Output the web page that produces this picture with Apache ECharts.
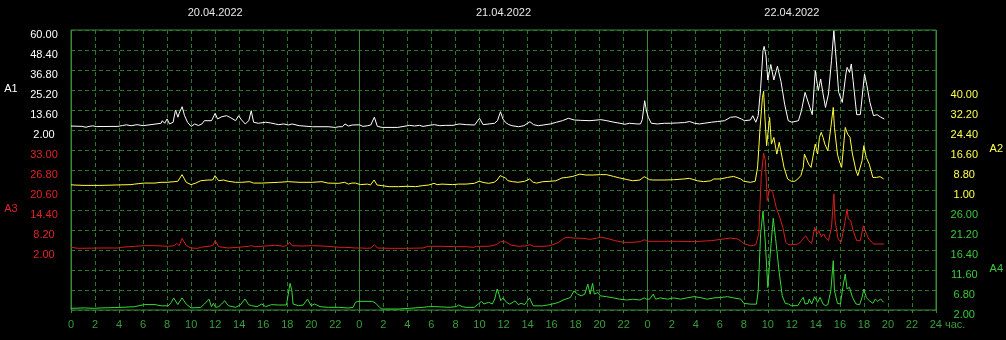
<!DOCTYPE html>
<html><head><meta charset="utf-8">
<script src="https://cdn.jsdelivr.net/npm/echarts@6/dist/echarts.min.js"></script>
<style>html,body{margin:0;padding:0;background:#000}#c{width:1006px;height:340px}</style>
</head><body><div id="c"></div>
<script>
// dates shown above each day (centred at noon)
const dates = ['20.04.2022', '21.04.2022', '22.04.2022'];
const datePositions = [12, 36, 60];
// tick labels of the four scales
const a1Ticks = [2, 13.6, 25.2, 36.8, 48.4, 60];
const a2Ticks = [1, 8.8, 16.6, 24.4, 32.2, 40];
const a3Ticks = [2, 8.2, 14.4, 20.6, 26.8, 33];
const a4Ticks = [2, 6.8, 11.6, 16.4, 21.2, 26];
// series points: [hour since 20.04 00:00, value]
const a1 = [[0,4.3],[0.9,4.1],[1.25,3.6],[1.5,4.1],[1.8,4.4],[2.1,4.0],[3.9,4.1],[4.3,4.6],[4.6,5.0],[5.0,4.5],[5.5,5.1],[6.0,4.5],[6.1,5.5],[7.5,5.9],[7.6,7.4],[7.8,5.9],[8.0,8.4],[8.2,5.5],[8.5,6.5],[8.7,13.6],[8.9,9.4],[9.0,11.7],[9.25,15.5],[9.45,10.3],[9.7,6.5],[10.0,4.1],[10.3,5.5],[10.6,4.6],[10.9,5.5],[11.1,7.4],[11.7,7.4],[12.0,11.7],[12.2,8.4],[12.55,9.7],[12.95,10.3],[13.25,9.3],[13.7,7.4],[13.95,10.3],[14.2,7.8],[14.5,5.5],[14.8,7.4],[15.0,13.2],[15.2,6.5],[15.6,5.9],[16.2,6.5],[16.6,6.1],[17.0,5.5],[17.3,5.1],[17.7,5.5],[18.1,4.9],[18.4,5.5],[19.0,4.5],[20.1,3.9],[21.4,3.9],[22.0,3.5],[22.3,3.9],[22.6,3.9],[22.8,5.5],[23.1,4.3],[23.4,4.9],[24.0,5.0],[24.3,4.1],[24.7,4.5],[24.95,4.9],[25.25,9.4],[25.5,4.1],[25.9,3.5],[27.2,3.5],[28.2,4.7],[28.6,4.3],[29.0,4.7],[29.3,4.1],[29.8,4.7],[30.25,5.1],[30.7,4.5],[31.2,4.7],[31.8,4.7],[32.3,5.5],[32.9,5.1],[33.6,4.9],[34.0,8.8],[34.3,5.1],[34.8,5.5],[35.25,5.9],[35.5,7.4],[35.75,12.6],[35.95,8.4],[36.15,6.5],[36.4,5.3],[36.7,4.5],[37.25,3.9],[37.7,4.5],[38.2,6.8],[38.5,5.1],[38.9,4.5],[39.3,4.9],[39.9,5.5],[40.4,6.5],[40.9,7.4],[41.4,8.8],[41.9,7.8],[42.4,7.6],[43.2,7.4],[44.1,8.0],[44.6,7.4],[45.2,6.5],[45.7,5.9],[46.1,5.3],[46.5,5.9],[47.1,5.5],[47.4,5.5],[47.55,8.0],[47.75,19.0],[47.9,13.0],[48.05,9.4],[48.3,5.9],[48.8,5.5],[49.4,5.9],[49.9,5.9],[50.5,6.1],[51.05,6.3],[51.5,6.9],[51.9,5.9],[52.3,5.5],[52.7,5.9],[53.3,6.5],[53.8,6.9],[54.4,7.4],[54.9,9.4],[55.35,9.7],[55.8,8.4],[56.05,7.4],[56.55,7.8],[56.75,10.3],[57.0,6.5],[57.2,10.3],[57.4,26],[57.6,48],[57.7,50.5],[57.85,45],[58.0,31],[58.25,40],[58.5,31],[58.8,39],[59.1,30],[59.4,17],[59.7,7.4],[60.0,6.5],[60.55,7.4],[60.8,13.2],[61.1,23.8],[61.25,22.9],[61.5,15.1],[61.7,10.9],[61.95,36.4],[62.2,24.8],[62.4,31.6],[62.6,22.9],[62.8,15.1],[63.05,22.9],[63.3,42.2],[63.5,59.6],[63.7,42.2],[63.9,23.8],[64.2,18.0],[64.5,34.5],[64.6,38.3],[64.8,35.4],[64.95,40.3],[65.1,30.6],[65.4,10.9],[65.7,10.9],[66.05,34.5],[66.25,27.7],[66.5,18.0],[66.8,10.3],[67.1,10.9],[67.4,9.4],[67.7,8.4]];
const a2 = [[0,3.0],[1.0,2.8],[2.5,2.8],[5.0,3.1],[5.3,3.3],[6.1,3.7],[7.0,3.7],[7.5,4.0],[8.0,4.0],[8.6,4.25],[8.9,4.4],[9.25,7.0],[9.6,4.0],[10.0,3.1],[10.4,3.7],[10.8,4.6],[11.4,4.9],[11.8,4.9],[12.0,6.6],[12.3,4.6],[12.7,4.9],[13.1,4.4],[13.7,4.0],[14.2,4.0],[14.9,4.25],[15.2,3.7],[15.9,3.7],[17.3,4.0],[18.1,4.25],[19.0,4.0],[20.1,4.0],[20.9,4.25],[21.4,3.7],[22.3,3.6],[22.8,4.0],[23.1,3.3],[23.4,3.7],[23.7,3.7],[24.1,3.1],[24.7,3.3],[24.95,2.95],[25.25,4.9],[25.5,2.95],[25.9,2.7],[26.5,2.3],[27.3,2.3],[28.0,2.45],[28.7,2.3],[29.3,2.7],[29.8,2.95],[30.25,3.6],[30.5,3.1],[30.9,3.3],[31.8,3.1],[32.3,3.3],[32.9,3.3],[33.6,3.6],[34.0,4.4],[34.4,3.9],[34.8,3.6],[35.25,4.0],[35.5,4.9],[35.75,6.6],[35.95,6.2],[36.2,5.7],[36.4,4.6],[36.8,4.25],[37.25,4.0],[37.8,4.4],[38.2,5.3],[38.5,4.0],[38.8,3.7],[39.3,4.25],[39.9,4.4],[40.4,4.6],[40.9,5.7],[41.3,5.9],[41.8,6.3],[42.4,7.2],[42.5,6.6],[42.9,6.85],[43.5,6.85],[44.1,7.0],[44.6,7.0],[45.2,6.3],[45.7,5.7],[46.3,5.1],[46.8,4.6],[47.4,4.9],[47.75,6.2],[47.95,5.7],[48.2,5.0],[48.55,4.9],[49.4,4.9],[50.2,5.0],[51.05,5.3],[51.5,5.55],[52.2,4.6],[52.7,4.25],[53.3,4.6],[53.55,5.3],[54.1,5.3],[54.7,5.9],[55.2,6.3],[55.8,5.3],[56.05,4.4],[56.6,4.0],[57.0,4.4],[57.2,10],[57.4,25],[57.6,37],[57.7,39.5],[57.8,30],[57.95,18.3],[58.2,29.3],[58.35,18.9],[58.55,21.5],[58.8,15.0],[59.0,19.6],[59.4,9.8],[59.7,5.3],[60.0,4.4],[60.3,4.4],[60.55,5.3],[60.8,6.6],[61.0,9.8],[61.1,15.0],[61.25,15.7],[61.45,11.1],[61.65,9.8],[61.9,16.3],[62.0,18.9],[62.2,15.0],[62.35,21.5],[62.5,23.5],[62.65,21.5],[62.8,18.9],[63.05,16.3],[63.3,25.4],[63.5,33.2],[63.6,25.4],[63.85,15.0],[64.0,12.4],[64.2,9.8],[64.4,20.2],[64.5,25.4],[64.7,22.8],[64.9,21.5],[65.1,15.0],[65.4,8.5],[65.55,6.6],[65.7,6.6],[65.9,12.4],[66.05,18.3],[66.25,13.7],[66.5,11.1],[66.8,5.9],[67.1,5.9],[67.4,6.2],[67.7,5.3]];
const a3 = [[0,2.83],[0.6,2.52],[2.5,2.62],[3.9,2.62],[4.2,2.83],[5.3,3.14],[6.1,3.34],[7.0,3.34],[8.1,3.14],[8.6,3.34],[8.8,4.07],[9.0,3.34],[9.25,5.6],[9.6,3.34],[10.0,2.62],[10.55,2.52],[10.8,2.83],[11.4,3.14],[11.8,3.34],[12.0,4.9],[12.3,3.03],[13.1,2.62],[13.9,2.83],[14.8,3.14],[15.05,3.34],[15.3,3.03],[16.2,3.24],[17.0,3.45],[17.7,3.14],[17.95,3.34],[18.2,4.38],[18.4,3.34],[19.2,3.24],[20.1,3.34],[20.9,3.24],[21.7,3.03],[22.4,2.83],[22.55,3.14],[22.8,2.83],[23.7,2.62],[24.2,2.62],[24.6,2.52],[24.95,2.62],[25.25,3.65],[25.5,2.62],[26.5,2.52],[27.9,2.52],[29.3,2.62],[29.7,3.14],[31.0,3.14],[32.1,3.03],[32.9,3.03],[33.5,2.83],[33.75,3.14],[34.8,3.14],[35.4,3.65],[35.75,4.6],[36.2,4.5],[36.6,3.55],[37.25,3.14],[37.95,3.34],[38.2,3.65],[38.5,3.14],[39.3,3.14],[39.9,3.34],[40.6,4.38],[41.0,5.6],[41.3,5.93],[41.8,5.72],[42.7,5.6],[43.2,5.3],[43.8,5.72],[44.1,5.93],[44.6,5.6],[45.3,4.9],[46.0,4.38],[46.8,4.38],[47.4,4.6],[47.75,5.2],[47.95,4.7],[49.1,4.7],[50.5,4.7],[51.9,4.6],[53.3,4.9],[54.1,5.3],[54.9,5.7],[55.5,5.4],[55.8,4.6],[56.05,3.9],[56.6,3.3],[57.0,3.65],[57.25,7.0],[57.45,24.5],[57.65,32],[57.8,29.7],[57.95,17.3],[58.15,20.9],[58.3,21.4],[58.4,19.9],[58.7,15.2],[59.0,12.1],[59.25,9.0],[59.5,4.4],[59.7,3.65],[60.0,3.65],[60.55,3.86],[60.8,4.9],[61.15,6.4],[61.4,4.9],[61.65,4.07],[61.9,9.0],[62.1,7.0],[62.25,8.0],[62.45,6.1],[62.65,7.0],[62.8,5.9],[63.05,4.9],[63.3,9.0],[63.5,19.4],[63.6,11.1],[63.85,5.4],[64.1,4.4],[64.4,10.1],[64.6,14.7],[64.7,11.6],[64.9,11.1],[65.1,8.0],[65.4,4.9],[65.7,4.9],[65.95,9.5],[66.1,8.0],[66.4,5.4],[66.8,3.86],[67.2,3.86],[67.7,3.86]];
const a4 = [[0,2.4],[1.1,2.5],[1.95,2.4],[2.5,2.5],[3.9,2.6],[5.3,2.8],[6.1,3.3],[7.0,3.3],[7.5,3.0],[8.1,3.0],[8.35,3.8],[8.55,4.9],[8.9,3.3],[9.25,4.9],[9.6,3.4],[10.0,2.5],[10.8,2.6],[11.1,3.4],[11.5,4.6],[11.7,2.8],[11.86,3.6],[12.05,2.64],[12.3,2.8],[12.55,3.44],[12.8,4.24],[13.1,3.04],[13.7,2.64],[14.1,3.2],[14.5,4.64],[14.8,3.28],[15.05,3.04],[15.5,2.8],[15.9,3.44],[16.2,2.8],[16.7,3.28],[17.3,3.2],[17.95,3.2],[18.1,5.84],[18.25,8.4],[18.4,6.64],[18.5,3.44],[18.95,3.04],[19.35,3.2],[19.7,4.64],[20.0,3.04],[20.3,3.44],[20.75,2.8],[21.45,2.64],[22.3,2.64],[23.1,2.48],[23.5,2.64],[23.7,3.84],[23.9,4.08],[25.1,4.08],[25.4,3.6],[25.7,2.64],[25.9,2.24],[27.3,2.24],[28.2,2.4],[29.3,2.64],[29.8,2.8],[30.4,2.8],[31.5,2.64],[32.1,2.8],[32.3,3.2],[32.6,2.8],[32.9,2.64],[33.6,2.64],[33.75,3.04],[34.0,3.6],[34.2,4.08],[34.4,3.44],[34.8,3.84],[35.1,3.44],[35.3,4.64],[35.5,7.04],[35.65,5.84],[35.8,4.24],[36.0,4.9],[36.3,3.8],[36.55,3.4],[37.0,4.2],[37.25,3.3],[37.5,3.6],[37.8,3.3],[38.2,4.9],[38.5,3.0],[39.3,3.0],[39.9,3.3],[40.6,3.8],[41.0,4.4],[41.6,5.0],[41.9,6.6],[42.2,5.8],[42.5,5.4],[42.8,5.8],[43.05,8.2],[43.25,5.8],[43.45,8.4],[43.6,5.8],[43.9,6.2],[44.1,5.4],[44.6,5.2],[45.2,4.9],[45.7,4.6],[46.3,4.4],[46.8,4.6],[47.4,4.4],[47.75,4.9],[47.95,4.6],[48.2,4.6],[48.5,5.8],[48.7,4.6],[49.1,4.9],[49.7,4.6],[50.2,4.9],[50.8,4.6],[51.3,4.9],[51.9,5.2],[52.4,5.0],[53.0,4.6],[53.55,4.9],[54.1,5.0],[54.7,5.2],[55.2,4.9],[55.8,4.6],[56.05,3.6],[56.6,3.4],[57.1,3.4],[57.25,6.6],[57.45,20.3],[57.65,25.8],[57.85,17.8],[58.05,7.4],[58.25,15.4],[58.5,24.0],[58.7,19.1],[59.0,11.0],[59.25,5.4],[59.5,3.6],[59.8,3.4],[60.0,3.04],[60.55,3.04],[60.8,4.24],[61.0,5.04],[61.15,3.44],[61.4,3.6],[61.5,4.64],[61.7,3.44],[61.95,5.2],[62.2,3.84],[62.4,5.04],[62.65,3.44],[62.85,3.04],[63.05,3.28],[63.3,6.64],[63.5,13.84],[63.6,6.64],[63.85,3.6],[64.1,3.44],[64.3,7.44],[64.5,10.64],[64.65,7.04],[64.85,7.44],[65.1,5.04],[65.4,3.44],[65.7,3.28],[65.9,5.04],[66.05,7.04],[66.25,5.04],[66.5,4.24],[66.8,3.6],[67.0,4.64],[67.2,4.08],[67.45,4.64],[67.7,3.84]];

const FONT = 'Liberation Sans';
const gridDash = '#2a7a2a';
const gridSolid = '#3a8a3a';
const xLabelColor = '#3a9e3a';
const C = {a1: '#ffffff', a2: '#ffff3c', a3: '#d81e1e', a4: '#38d838'};
const L = {a1: '#ffffff', a2: '#ffff50', a3: '#e02424', a4: '#3cc83c'};

const chart = echarts.init(document.getElementById('c'), null, {renderer: 'canvas'});
const G = {left: 71, width: 865};
const bands = [30, 90, 150, 210];

function hiddenX(i) {
  return {gridIndex: i, type: 'value', min: 0, max: 72, show: false};
}
function valueAxis(i, min, max, ticks, pos, name, labelColor) {
  return {
    gridIndex: i, type: 'value', min: min, max: max, position: pos,
    axisLine: {show: false}, axisTick: {show: false}, splitLine: {show: false},
    axisLabel: {
      customValues: ticks, color: labelColor, fontFamily: FONT, fontSize: 11,
      align: 'center', margin: pos === 'left' ? 27 : 29,
      formatter: v => '{v|' + Number(v).toFixed(2) + '}',
      rich: {v: {color: labelColor, fontFamily: FONT, fontSize: 11, padding: [10, 0, 0, 0]}}
    },
    name: '{n|' + name + '}', nameLocation: 'middle', nameRotate: 0,
    nameGap: pos === 'left' ? 60 : 61,
    nameTextStyle: {color: labelColor, fontFamily: FONT, fontSize: 11, align: 'center', verticalAlign: 'middle',
      rich: {n: {color: labelColor, fontFamily: FONT, fontSize: 11, padding: [18, 0, 0, 0]}}}
  };
}

const option = {
  backgroundColor: '#000',
  animation: false,
  grid: [
    {left: G.left, width: G.width, top: 30, height: 280, show: true, borderColor: gridSolid, borderWidth: 1, backgroundColor: 'transparent'},
    {left: G.left, width: G.width, top: bands[0], height: 100},
    {left: G.left, width: G.width, top: bands[1], height: 100},
    {left: G.left, width: G.width, top: bands[2], height: 100},
    {left: G.left, width: G.width, top: bands[3], height: 100}
  ],
  xAxis: [
    {gridIndex: 0, type: 'value', min: 0, max: 72, interval: 2, position: 'bottom',
      axisLine: {show: false},
      axisTick: {show: true, length: 3, lineStyle: {color: gridSolid}},
      axisLabel: {color: xLabelColor, fontFamily: FONT, fontSize: 11, margin: 9, showMaxLabel: true, showMinLabel: true,
        formatter: v => v === 72 ? '{u|24 час.}' : String(v % 24),
        rich: {u: {color: xLabelColor, fontFamily: FONT, fontSize: 11, padding: [0, 0, 0, 23]}}},
      splitLine: {show: true, lineStyle: {color: gridDash, type: [4, 3], width: 1}}},
    {gridIndex: 0, type: 'value', min: 0, max: 72, interval: 24, position: 'top',
      axisLine: {show: false}, axisTick: {show: false}, axisLabel: {show: false},
      splitLine: {show: true, lineStyle: {color: gridSolid, type: 'solid', width: 1}}},
    {gridIndex: 0, type: 'value', min: 0, max: 72, position: 'top',
      axisLine: {show: false}, axisTick: {show: false}, splitLine: {show: false},
      axisLabel: {customValues: datePositions, color: '#e8e8e8', fontFamily: FONT, fontSize: 11, margin: 12,
        formatter: v => dates[datePositions.indexOf(v)] || ''}},
    hiddenX(1), hiddenX(2), hiddenX(3), hiddenX(4)
  ],
  yAxis: [
    {gridIndex: 0, type: 'value', min: 0, max: 14, interval: 1, axisLine: {show: false}, axisTick: {show: false}, axisLabel: {show: false},
      splitLine: {show: true, lineStyle: {color: gridDash, type: [4, 3], width: 1}}},
    valueAxis(1, 2, 60, a1Ticks, 'left', 'A1', L.a1),
    valueAxis(2, 1, 40, a2Ticks, 'right', 'A2', L.a2),
    valueAxis(3, 2, 33, a3Ticks, 'left', 'A3', L.a3),
    valueAxis(4, 2, 26, a4Ticks, 'right', 'A4', L.a4)
  ],
  series: [
    {name: 'A2', data: a2, color: C.a2, xAxisIndex: 4, yAxisIndex: 2},
    {name: 'A1', data: a1, color: C.a1, xAxisIndex: 3, yAxisIndex: 1},
    {name: 'A4', data: a4, color: C.a4, xAxisIndex: 6, yAxisIndex: 4},
    {name: 'A3', data: a3, color: C.a3, xAxisIndex: 5, yAxisIndex: 3}
  ].map(s => Object.assign({type: 'line', showSymbol: false, symbol: 'none', clip: false,
      lineStyle: {width: 1, color: s.color}, silent: true}, s))
};
chart.setOption(option);
</script>
</body></html>
